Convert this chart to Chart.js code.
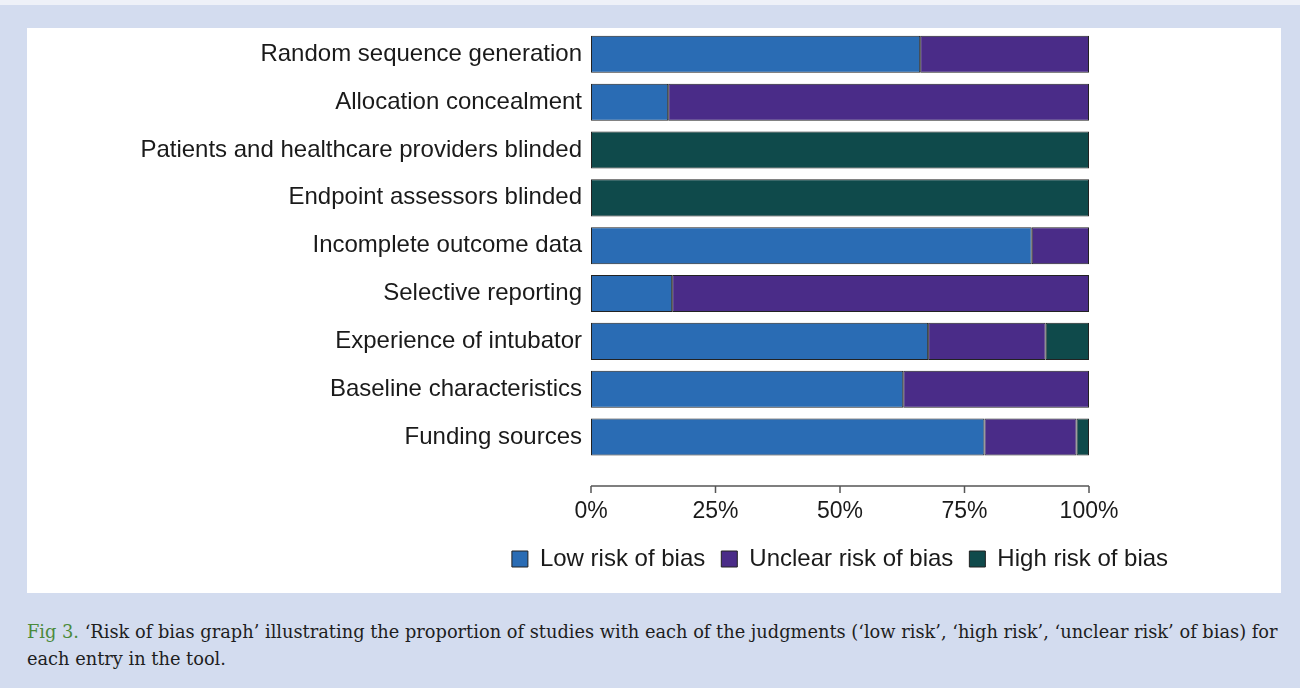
<!DOCTYPE html>
<html>
<head>
<meta charset="utf-8">
<script src="https://cdn.jsdelivr.net/npm/chart.js@4"></script>
<style>
  html, body { margin: 0; padding: 0; }
  body { width: 1300px; height: 688px; background: #d3dcef; position: relative; overflow: hidden; }
  #topstrip { position: absolute; left: 0; top: 0; width: 1300px; height: 5px; background: #eef1f8; }
  #panel { position: absolute; left: 27px; top: 28px; width: 1254px; height: 565px; background: #ffffff; }
  #c { position: absolute; left: 27px; top: 7px; display: block; }
  #caption { position: absolute; left: 27px; top: 618px; width: 1270px; font-family: "DejaVu Serif", serif; font-size: 17.8px; line-height: 27px; color: #1e1e1e; white-space: nowrap; }
  #caption .fig { color: #4b8a3c; }
</style>
</head>
<body>
<div id="topstrip"></div>
<div id="panel"></div>
<canvas id="c" width="1521" height="574"></canvas>
<div id="caption"><span class="fig">Fig 3.</span> ‘Risk of bias graph’ illustrating the proportion of studies with each of the judgments (‘low risk’, ‘high risk’, ‘unclear risk’ of bias) for<br>each entry in the tool.</div>
<script>
const categories = [
  "Random sequence generation",
  "Allocation concealment",
  "Patients and healthcare providers blinded",
  "Endpoint assessors blinded",
  "Incomplete outcome data",
  "Selective reporting",
  "Experience of intubator",
  "Baseline characteristics",
  "Funding sources"
];
const lowRisk     = [66.1, 15.5, null, null, 88.5, 16.3, 67.7, 62.7, 79.0];
const unclearRisk = [33.9, 84.5, null, null, 11.5, 83.7, 23.6, 37.3, 18.5];
const highRisk    = [null, null, 100, 100, null, null, 8.7, null, 2.5];
const seriesNames = ["Low risk of bias", "Unclear risk of bias", "High risk of bias"];
const tickValues  = [0, 25, 50, 75, 100];

const axisPlugin = {
  id: 'offsetAxis',
  afterDraw(chart) {
    const ctx = chart.ctx;
    const xs = chart.scales.x;
    const y0 = chart.chartArea.bottom + 25;
    ctx.save();
    ctx.strokeStyle = '#555555';
    ctx.lineWidth = 1.5;
    ctx.beginPath();
    ctx.moveTo(xs.getPixelForValue(tickValues[0]), y0);
    ctx.lineTo(xs.getPixelForValue(tickValues[tickValues.length - 1]), y0);
    tickValues.forEach(v => {
      const px = xs.getPixelForValue(v);
      ctx.moveTo(px, y0);
      ctx.lineTo(px, y0 + 7);
    });
    ctx.stroke();
    ctx.restore();
  }
};

const font = 'Liberation Sans, Arial, sans-serif';

new Chart(document.getElementById('c'), {
  type: 'bar',
  data: {
    labels: categories,
    datasets: [
      { label: seriesNames[0], data: lowRisk, backgroundColor: '#2a6cb4', borderColor: '#222222', borderWidth: 1, borderSkipped: false },
      { label: seriesNames[1], data: unclearRisk, backgroundColor: '#4a2c88', borderColor: '#222222', borderWidth: 1, borderSkipped: false },
      { label: seriesNames[2], data: highRisk, backgroundColor: '#0f4a4b', borderColor: '#222222', borderWidth: 1, borderSkipped: false }
    ]
  },
  options: {
    indexAxis: 'y',
    responsive: false,
    animation: false,
    barPercentage: 0.775,
    categoryPercentage: 1.0,
    layout: { padding: { left: 115, right: 10, top: 2, bottom: 0 } },
    scales: {
      x: {
        stacked: true, min: 0, max: 100,
        afterBuildTicks: (s) => { s.ticks = tickValues.map(v => ({ value: v })); },
        grid: { display: false, drawTicks: false },
        border: { display: false },
        ticks: { padding: 37, color: '#1a1a1a', font: { family: font, size: 23 }, callback: (v) => v + '%' },
        afterFit: (s) => { s.height = 70; }
      },
      y: {
        stacked: true,
        grid: { display: false, drawTicks: false },
        border: { display: false },
        ticks: { padding: 9, color: '#1a1a1a', font: { family: font, size: 24 } },
        afterFit: (s) => { s.width = 449; }
      },
      yR: {
        type: 'category',
        position: 'right',
        grid: { display: false, drawTicks: false },
        border: { display: false },
        ticks: { display: false },
        afterFit: (s) => { s.width = 449; }
      }
    },
    plugins: {
      legend: {
        position: 'bottom',
        labels: { boxWidth: 16, boxHeight: 16, padding: 16, color: '#1a1a1a', font: { family: font, size: 24 } }
      },
      tooltip: { enabled: false }
    }
  },
  plugins: [axisPlugin]
});
</script>
</body>
</html>
